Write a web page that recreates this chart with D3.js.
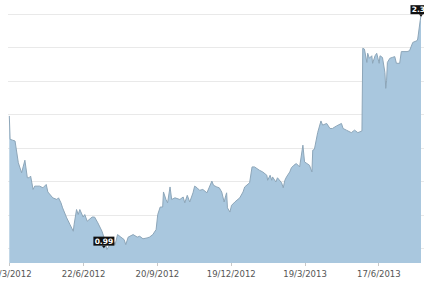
<!DOCTYPE html>
<meta charset="utf-8">
<style>
body { margin: 0; background: #fff; }
svg { display: block; }
.grid line { stroke: #e9e9e9; shape-rendering: crispEdges; }
.x.axis path { display: none; }
.x.axis line { stroke: #c8c8c8; shape-rendering: crispEdges; }
.x.axis text { font: 8.5px "DejaVu Sans", Verdana, sans-serif; fill: #555; }
.flag text { font: bold 7.5px "DejaVu Sans", Verdana, sans-serif; fill: #fff; }
</style>
<body>
<script src="https://d3js.org/d3.v7.min.js"></script>
<script>

// price series (date, value)
var dates = [
  "2012-03-24","2012-03-25","2012-03-28","2012-03-31","2012-04-04","2012-04-08","2012-04-12","2012-04-15",
  "2012-04-17","2012-04-19","2012-04-22","2012-04-24","2012-04-30","2012-05-04","2012-05-08","2012-05-10",
  "2012-05-16","2012-05-21","2012-05-23","2012-05-26","2012-05-28","2012-06-02","2012-06-06","2012-06-10",
  "2012-06-11","2012-06-14","2012-06-16","2012-06-18","2012-06-22","2012-06-24","2012-06-27","2012-07-03",
  "2012-07-06","2012-07-10","2012-07-15","2012-07-19","2012-07-21","2012-07-25","2012-07-28","2012-07-31",
  "2012-08-03","2012-08-07","2012-08-11","2012-08-13","2012-08-16","2012-08-22","2012-08-27","2012-08-30",
  "2012-09-03","2012-09-08","2012-09-11","2012-09-15","2012-09-19","2012-09-21","2012-09-24","2012-09-27",
  "2012-09-28","2012-10-01","2012-10-03","2012-10-06","2012-10-08","2012-10-12","2012-10-18","2012-10-22",
  "2012-10-24","2012-10-27","2012-10-30","2012-11-03","2012-11-05","2012-11-08","2012-11-11","2012-11-15",
  "2012-11-20","2012-11-26","2012-11-28","2012-12-02","2012-12-05","2012-12-08","2012-12-11","2012-12-13",
  "2012-12-14","2012-12-15","2012-12-18","2012-12-20","2012-12-24","2012-12-30","2013-01-03","2013-01-05",
  "2013-01-11","2013-01-14","2013-01-17","2013-01-23","2013-01-27","2013-02-01","2013-02-02","2013-02-05",
  "2013-02-07","2013-02-08","2013-02-12","2013-02-14","2013-02-19","2013-02-21","2013-02-23","2013-02-25",
  "2013-03-01","2013-03-03","2013-03-06","2013-03-09","2013-03-13","2013-03-17","2013-03-19","2013-03-25",
  "2013-03-28","2013-03-29","2013-03-31","2013-04-04","2013-04-08","2013-04-10","2013-04-15","2013-04-19",
  "2013-04-22","2013-04-27","2013-05-03","2013-05-05","2013-05-09","2013-05-15","2013-05-19","2013-05-23",
  "2013-05-28","2013-05-29","2013-05-31","2013-06-03","2013-06-04","2013-06-06","2013-06-09","2013-06-10",
  "2013-06-13","2013-06-15","2013-06-18","2013-06-19","2013-06-22","2013-06-25","2013-06-26","2013-06-27",
  "2013-06-28","2013-07-01","2013-07-04","2013-07-07","2013-07-09","2013-07-13","2013-07-15","2013-07-22",
  "2013-07-25","2013-07-29","2013-08-03","2013-08-04","2013-08-07","2013-08-08"
];
var values = [
  1.79,1.65,1.645,1.64,1.51,1.45,1.525,1.42,
  1.42,1.43,1.35,1.37,1.37,1.36,1.38,1.335,
  1.30,1.29,1.30,1.27,1.24,1.18,1.14,1.10,
  1.14,1.23,1.20,1.23,1.185,1.20,1.16,1.185,
  1.185,1.15,1.10,1.04,0.99,1.025,1.05,1.02,
  1.08,1.065,1.05,1.02,1.065,1.08,1.065,1.07,
  1.055,1.06,1.065,1.08,1.11,1.20,1.245,1.245,
  1.335,1.29,1.27,1.365,1.29,1.30,1.29,1.305,
  1.27,1.315,1.275,1.33,1.37,1.36,1.345,1.35,
  1.33,1.40,1.375,1.365,1.36,1.335,1.275,1.315,
  1.33,1.24,1.215,1.255,1.275,1.30,1.335,1.365,
  1.39,1.485,1.485,1.465,1.455,1.435,1.405,1.435,
  1.405,1.425,1.395,1.42,1.39,1.36,1.405,1.425,
  1.455,1.48,1.495,1.505,1.485,1.615,1.515,1.495,
  1.455,1.585,1.59,1.69,1.76,1.735,1.745,1.715,
  1.715,1.73,1.745,1.715,1.705,1.69,1.705,1.69,
  1.70,2.195,2.19,2.11,2.165,2.135,2.15,2.105,
  2.15,2.165,2.105,2.15,2.14,2.05,1.955,2.00,
  2.11,2.135,2.14,2.145,2.105,2.105,2.175,2.175,
  2.18,2.23,2.24,2.25,2.36,2.39
];
var tickDates = ["2012-03-24","2012-06-22","2012-09-20","2012-12-19","2013-03-19","2013-06-17"];
var gridValues = [1.0, 1.2, 1.4, 1.6, 1.8, 2.0, 2.2, 2.4];

var width = 424, height = 285;
var plotLeft = 9.3, plotRight = 421, plotTop = 14, plotBottom = 263;

var parseDate = d3.timeParse("%Y-%m-%d");
var formatTick = function(d) { return d.getDate() + "/" + (d.getMonth() + 1) + "/" + d.getFullYear(); };

var data = dates.map(function(d, i) { return {date: parseDate(d), value: values[i]}; });

var x = d3.scaleTime()
  .domain(d3.extent(data, function(d) { return d.date; }))
  .range([plotLeft, plotRight]);

var y = d3.scaleLinear()
  .domain([0.91, 2.4])
  .range([plotBottom, plotTop]);

var svg = d3.select("body").append("svg")
  .attr("width", width)
  .attr("height", height);

// horizontal grid
svg.append("g")
  .attr("class", "grid")
  .selectAll("line")
  .data(gridValues)
  .enter().append("line")
    .attr("x1", plotLeft - 1)
    .attr("x2", width)
    .attr("y1", function(d) { return Math.round(y(d)) + 0.5; })
    .attr("y2", function(d) { return Math.round(y(d)) + 0.5; });

// area + line
var area = d3.area()
  .x(function(d) { return x(d.date); })
  .y0(y(0.91))
  .y1(function(d) { return y(d.value); });

var line = d3.line()
  .x(function(d) { return x(d.date); })
  .y(function(d) { return y(d.value); });

svg.append("path")
  .datum(data)
  .attr("d", area)
  .attr("fill", "#a9c7de");

svg.append("path")
  .datum(data)
  .attr("d", line)
  .attr("fill", "none")
  .attr("stroke", "#8da6b9")
  .attr("stroke-width", 1);

// x axis
svg.append("g")
  .attr("class", "x axis")
  .attr("transform", "translate(0," + plotBottom + ")")
  .call(d3.axisBottom(x)
    .tickValues(tickDates.map(parseDate))
    .tickFormat(formatTick)
    .tickSize(3)
    .tickPadding(5));

// min / max flags
var minPt = data[d3.minIndex(data, function(d) { return d.value; })];
var maxPt = data[d3.maxIndex(data, function(d) { return d.value; })];

function flag(p, dx, dy) {
  var cx = x(p.date) + dx, cy = y(p.value) + dy;
  var g = svg.append("g").attr("class", "flag");
  g.append("rect")
    .attr("x", cx - 10.5)
    .attr("y", cy - 9)
    .attr("width", 21)
    .attr("height", 9)
    .attr("fill", "#111");
  g.append("path")
    .attr("d", "M" + (cx - 2) + "," + cy + "L" + (cx + 2) + "," + cy + "L" + cx + "," + (cy + 2.5) + "Z")
    .attr("fill", "#111");
  g.append("text")
    .attr("x", cx)
    .attr("y", cy - 1.8)
    .attr("text-anchor", "middle")
    .text(p.value.toFixed(2));
}

flag(minPt, -3, -4);
flag(maxPt, 0, -1.5);

</script>
</body>
